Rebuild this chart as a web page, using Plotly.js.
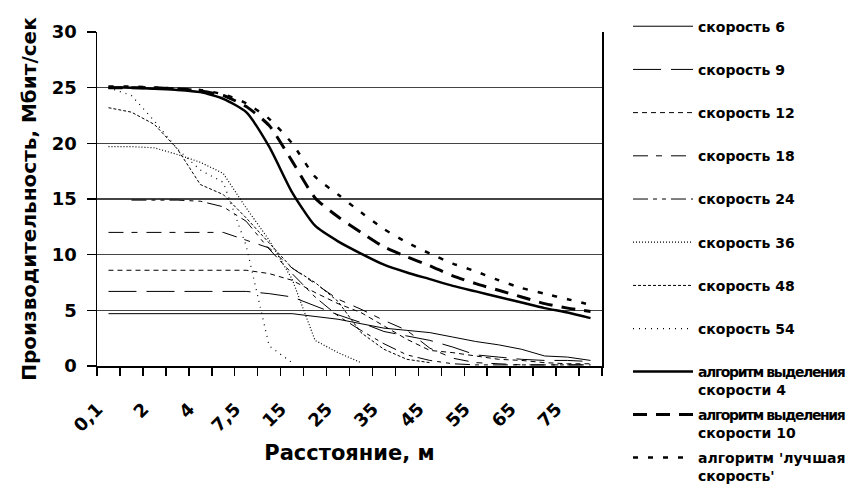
<!DOCTYPE html>
<html>
<head>
<meta charset="utf-8">
<script src="https://cdn.plot.ly/plotly-3.0.1.min.js"></script>
<style>html,body{margin:0;padding:0;background:#fff;}#chart{width:849px;height:490px;}</style>
</head>
<body>
<div id="chart"></div>
<script>
const categories = ["0,1","1","2","3","4","5","7,5","10","15","20","25","30","35","40","45","50","55","60","65","70","75","80"];
const tickLabels = ["0,1","","2","","4","","7,5","","15","","25","","35","","45","","55","","65","","75",""];

const speed6  = [4.7,4.7,4.7,4.7,4.7,4.7,4.7,4.7,4.7,4.45,4.2,3.8,3.4,3.2,3.0,2.6,2.2,1.9,1.5,0.9,0.8,0.5];
const speed9  = [6.7,6.7,6.7,6.7,6.7,6.7,6.7,6.5,6.2,5.4,4.6,3.9,3.1,2.7,2.3,1.7,1.0,0.8,0.6,0.5,0.5,0.4];
const speed12 = [8.6,8.6,8.6,8.6,8.6,8.6,8.6,8.3,7.7,6.6,5.6,4.8,3.6,2.4,1.4,1.2,0.9,0.6,0.5,0.3,0.2,0.2];
const speed18 = [12.0,12.0,12.0,12.0,12.0,12.0,11.3,10.6,8.8,7.4,6.0,5.1,4.1,3.2,1.6,0.7,0.3,0.2,0.1,0.1,0.1,0.1];
const speed24 = [null,14.9,14.9,14.9,14.8,14.3,13.0,10.5,8.3,6.2,4.5,3.2,2.0,1.0,0.5,0.2,0.1,0.1,0.1,0.1,0.1,0.1];
const speed36 = [19.7,19.7,19.6,19.0,18.3,17.3,14.2,11.3,7.8,2.3,1.2,0.3,null,null,null,null,null,null,null,null,null,null];
const speed48 = [23.2,22.8,21.7,19.5,16.3,15.4,13.3,11.0,8.8,7.5,5.8,3.0,1.5,0.6,0.3,null,null,null,null,null,null,null];
const speed54 = [25.0,24.3,22.0,19.5,17.6,16.5,10.8,1.8,0.3,null,null,null,null,null,null,null,null,null,null,null,null,null];
const algo4   = [25.0,25.0,24.9,24.8,24.6,24.0,22.8,19.7,15.6,12.6,11.2,10.1,9.1,8.4,7.8,7.2,6.7,6.2,5.7,5.2,4.8,4.3];
const algo10  = [25.0,25.0,25.0,24.9,24.7,24.3,23.3,21.6,18.4,15.1,13.4,12.0,10.7,9.8,9.0,8.1,7.4,6.8,6.2,5.6,5.2,4.9];
const algoBest= [25.1,25.1,25.0,24.9,24.8,24.4,23.6,22.2,20.0,17.0,15.4,13.8,12.3,11.1,10.1,9.2,8.5,7.7,7.0,6.5,6.0,5.5];

const names = ["скорость 6","скорость 9","скорость 12","скорость 18","скорость 24","скорость 36","скорость 48","скорость 54",
  "<span style=\"letter-spacing:-1.4px\">алгоритм выделения</span><br>скорости 4",
  "<span style=\"letter-spacing:-1.4px\">алгоритм выделения</span><br>скорости 10",
  "алгоритм 'лучшая<br>скорость'"];
const seriesData = [speed6,speed9,speed12,speed18,speed24,speed36,speed48,speed54,algo4,algo10,algoBest];
const dashes = ["solid","28px,10px","5px,4px","15px,8px,6px,9px","15px,5px,4px,5px,4px,5px","1px,2px","3px,2px","1px,5px","solid","14px,9px","5px,10px"];
const widths = [1,1,1,1,1,1.2,1,1.2,2.5,3,2.5];

const traces = seriesData.map((vals,i)=>({
  type:"scatter", mode:"lines", x:categories, y:vals, name:names[i],
  legend: i<8 ? "legend" : "legend2",
  legendgroup:"g"+i,
  line:{color:"#000", width:widths[i], dash:dashes[i], shape: i>=8 ? "spline" : "linear", smoothing:0.6},
  connectgaps:false, hoverinfo:"skip"
}));

const FONT = "DejaVu Sans, Arial, sans-serif";
const layout = {
  width:849, height:490,
  margin:{l:97, r:247, t:32, b:124, autoexpand:false},
  paper_bgcolor:"#fff", plot_bgcolor:"#fff",
  font:{family:FONT, color:"#000"},
  showlegend:true,
  legend:{x:1.0515, xanchor:"left", y:1.064, yanchor:"top", traceorder:"grouped", tracegroupgap:22, maxheight:480,
    font:{family:FONT, size:14, weight:700, color:"#000"}, itemwidth:60, bgcolor:"rgba(0,0,0,0)"},
  legend2:{x:1.0515, xanchor:"left", y:0.03, yanchor:"top", traceorder:"grouped", tracegroupgap:3.5, valign:"top", maxheight:200,
    font:{family:FONT, size:14, weight:700, color:"#000"}, itemwidth:60, bgcolor:"rgba(0,0,0,0)"},
  xaxis:{type:"category", tickmode:"array", tickvals:categories, ticktext:tickLabels, tickson:"boundaries",
    range:[-0.5,21.5], tickangle:-45, ticks:"outside", ticklen:8, tickwidth:1.5, tickcolor:"#000", automargin:false,
    ticklabelstandoff:24, ticklabelshift:-11,
    showline:true, linecolor:"#000", linewidth:1.5, showgrid:false, zeroline:false,
    tickfont:{family:FONT, size:18, weight:700, color:"#000"},
    title:{text:"Расстояние, м", standoff:10, font:{family:FONT, size:21, weight:700, color:"#000"}}},
  yaxis:{range:[0,30], dtick:5, tick0:0, ticks:"outside", ticklen:9, tickwidth:1.5, tickcolor:"#000", automargin:false,
    showline:true, mirror:true, linecolor:"#000", linewidth:1.5,
    showgrid:true, gridcolor:"#444", gridwidth:1.5, zeroline:false, ticklabelstandoff:6,
    tickfont:{family:FONT, size:18, weight:700, color:"#000"},
    title:{text:"Производительность, Мбит/сек", standoff:10, font:{family:FONT, size:20, weight:700, color:"#000"}}}
};
Plotly.newPlot("chart", traces, layout, {staticPlot:true, displayModeBar:false});
</script>
</body>
</html>
